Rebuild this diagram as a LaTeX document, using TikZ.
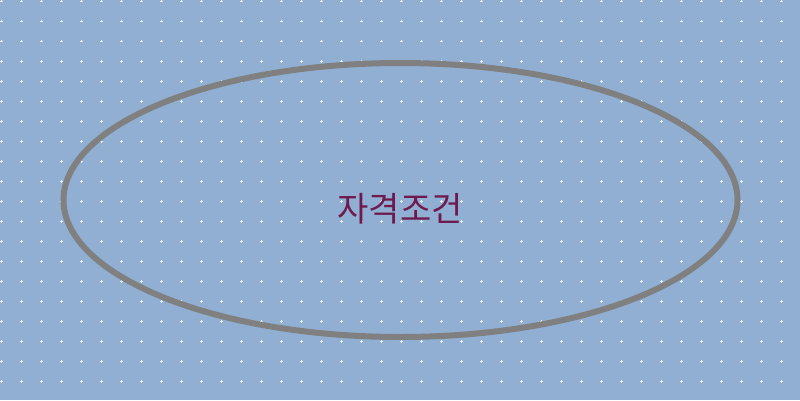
\documentclass[tikz,border=0pt]{standalone}
\usepackage{fontspec}
\newfontfamily\krfont{Noto Sans CJK KR}
\usetikzlibrary{shapes.geometric}
\definecolor{bgblue}{HTML}{90AFD2}
\definecolor{gridwhite}{HTML}{E6EDF6}
\definecolor{rimgray}{HTML}{808080}
\definecolor{labelplum}{HTML}{6E1A4F}

\begin{document}
\begin{tikzpicture}[x=1pt,y=1pt]
\fill [bgblue] (0,0) rectangle (800,400);
\useasboundingbox (0,0) rectangle (800,400);
\foreach \i in {0,...,39}
  \foreach \j in {0,...,19}
    \draw [gridwhite,line width=0.9pt] (20*\i+1.2-1.3,398.8-20*\j) -- ++(2.6,0) (20*\i+1.2,398.8-20*\j-1.3) -- ++(0,2.6);
\node (E) [ellipse,draw=rimgray,line width=6pt,minimum width=674pt,minimum height=274pt] at (400.5,200) {};
\node (T) [text=labelplum,font=\krfont\fontsize{34}{34}\selectfont] at (400,191.5) {자격조건};
\end{tikzpicture}
\end{document}
